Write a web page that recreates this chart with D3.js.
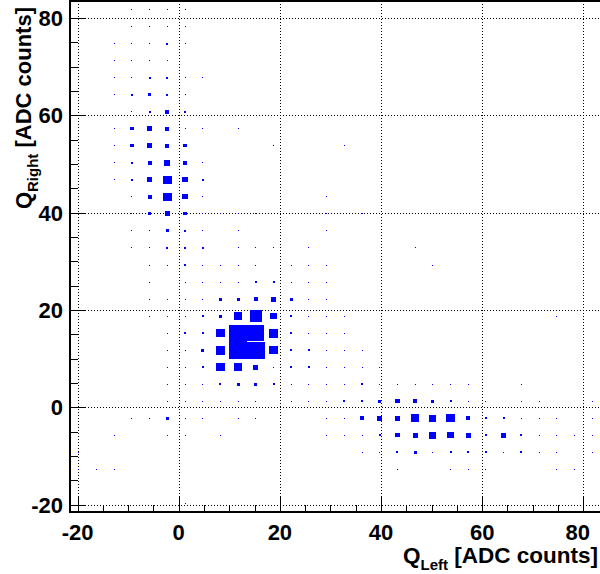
<!DOCTYPE html>
<html>
<head>
<meta charset="utf-8">
<script src="https://cdn.jsdelivr.net/npm/d3@7"></script>
<style>
  html, body { margin: 0; padding: 0; background: #fff; }
  svg { display: block; }
  text { font-family: "Liberation Sans", Arial, Helvetica, sans-serif; font-weight: bold; fill: #000; }
</style>
</head>
<body>
<svg id="chart" width="600" height="574"></svg>
<script>
// Axis ranges and binning of the 2D charge histogram (30 x 30 bins)
const qLeftRange = [-21.5, 83.5];
const qRightRange = [-21.5, 83.5];
const nBinsX = 30;
const nBinsY = 30;

// Tick values
const xTicks = [-20, 0, 20, 40, 60, 80];
const yTicks = [-20, 0, 20, 40, 60, 80];

// Axis titles
const xTitle = ["Q", "Left", " [ADC counts]"];
const yTitle = ["Q", "Right", " [ADC counts]"];

// Bin contents; first row is the highest Q_Right bin, columns run in Q_Left
const counts = [
  [0,0,0,1,1,1,1,0,0,0, 0,0,0,0,0,0,0,0,0,0, 0,0,0,0,0,0,0,0,0,0],
  [0,0,0,1,1,1,1,0,0,0, 0,0,0,0,0,0,0,0,0,0, 0,0,0,0,0,0,0,0,0,0],
  [0,0,1,1,1,2,1,0,0,0, 0,0,0,0,0,0,0,0,0,0, 0,0,0,0,0,0,0,0,0,0],
  [0,0,1,1,1,1,0,0,0,0, 0,0,0,0,0,0,0,0,0,0, 0,0,0,0,0,0,0,0,0,0],
  [0,0,1,1,2,2,1,1,0,0, 0,0,0,0,0,0,0,0,0,0, 0,0,0,0,0,0,0,0,0,0],
  [0,0,1,2,3,2,1,0,0,0, 0,0,0,0,0,0,0,0,0,0, 0,0,0,0,0,0,0,0,0,0],
  [0,0,0,1,2,4,2,0,0,0, 0,0,0,0,0,0,0,0,0,0, 0,0,0,0,0,0,0,0,0,0],
  [0,0,1,3,5,4,1,1,0,1, 0,0,0,0,0,0,0,0,0,0, 0,0,0,0,0,0,0,0,0,0],
  [0,0,1,3,5,4,3,0,0,0, 0,1,0,0,0,1,0,0,0,0, 0,0,0,0,0,0,0,0,0,0],
  [0,0,1,2,4,6,4,1,0,0, 0,0,0,0,0,0,0,0,0,0, 0,0,0,0,0,0,0,0,0,0],
  [0,0,1,2,5,8,5,2,0,0, 0,0,0,0,0,0,0,0,0,0, 0,0,0,0,0,0,0,0,0,0],
  [0,0,0,1,4,8,5,1,0,0, 0,0,0,0,1,0,0,0,0,0, 0,0,0,0,0,0,0,0,0,0],
  [0,0,0,1,3,5,3,1,1,1, 1,0,0,0,1,0,1,0,0,0, 0,0,0,0,0,0,0,0,0,0],
  [0,0,0,1,1,3,2,1,0,1, 0,0,0,0,1,0,0,0,0,0, 0,0,0,0,0,0,0,0,0,0],
  [0,0,0,1,1,2,2,2,0,1, 1,1,0,1,0,0,0,0,0,1, 0,0,0,0,0,0,0,0,0,0],
  [0,0,0,0,1,1,2,1,1,1, 1,0,1,1,1,0,0,0,0,0, 1,0,0,0,0,0,0,0,0,0],
  [0,0,0,0,1,0,1,1,1,1, 2,2,1,1,1,0,0,0,0,0, 0,0,0,0,0,0,0,0,0,0],
  [0,0,0,0,1,1,1,1,3,3, 4,5,3,1,1,0,0,0,0,0, 0,0,0,0,0,0,0,0,0,0],
  [0,0,0,0,1,1,1,2,3,8, 12,6,2,1,1,1,0,0,0,0, 0,0,0,0,0,0,0,1,0,0],
  [0,0,0,0,0,1,2,2,8,17, 16.5,9,2,1,1,1,0,0,0,0, 0,0,0,0,0,0,0,0,0,0],
  [0,0,0,0,0,1,1,3,9,17, 17,8,2,2,1,1,1,0,0,0, 0,0,0,0,0,0,0,0,0,0],
  [0,0,0,0,0,1,1,2,8,8, 5,1,2,2,1,1,1,1,0,0, 0,0,0,0,0,0,0,0,0,0],
  [0,0,0,0,0,1,1,1,2,3, 3,2,1,1,1,1,2,1,1,1, 1,1,1,0,0,1,0,0,0,0],
  [0,0,0,0,0,1,1,1,1,1, 1,0,1,1,1,2,2,3,4,4, 3,2,1,1,0,1,1,0,0,1],
  [0,0,0,1,1,3,1,1,0,1, 1,0,0,0,1,1,4,5,5,8, 7,8,4,2,2,1,1,1,0,1],
  [0,0,1,0,0,1,1,0,1,0, 0,0,0,0,1,1,1,2,4,5, 7,6,5,2,5,2,1,1,1,1],
  [1,0,0,0,0,0,0,0,0,0, 0,0,0,0,0,0,1,1,2,3, 1,2,2,2,1,2,1,1,0,1],
  [1,1,1,0,0,0,0,0,0,0, 0,0,0,0,0,0,0,0,1,0, 0,1,1,1,0,0,0,1,1,0],
  [0,0,0,0,0,0,0,0,0,0, 0,0,0,0,0,0,0,0,0,0, 0,0,0,0,0,0,0,0,0,0],
  [0,0,0,0,0,0,1,0,0,0, 0,0,0,0,0,0,0,0,0,0, 0,0,0,0,0,0,0,0,0,0]
];

// Frame geometry
const frame = { left: 70, top: 1, right: 601, bottom: 512 };
const canvasW = 600;

const svg = d3.select("#chart");

const x = d3.scaleLinear().domain(qLeftRange).range([frame.left, frame.right]);
const y = d3.scaleLinear().domain(qRightRange).range([frame.bottom, frame.top]);

const bwX = (qLeftRange[1] - qLeftRange[0]) / nBinsX;
const bwY = (qRightRange[1] - qRightRange[0]) / nBinsY;
const zMax = d3.max(counts.flat());

// Box side scales linearly with the bin content
const boxFrac = d3.scaleLinear().domain([0, zMax]).range([0, 1]);

// Flatten matrix into cell records
const cells = [];
counts.forEach((row, r) => {
  const j = nBinsY - 1 - r;
  row.forEach((v, k) => {
    if (v > 0) cells.push({ k, j, v });
  });
});

// Dotted grid at major ticks
const grid = svg.append("g").attr("stroke", "#000").attr("stroke-width", 1)
  .attr("stroke-dasharray", "1,2").attr("shape-rendering", "crispEdges");
grid.selectAll("line.gx").data(xTicks).join("line")
  .attr("x1", d => Math.round(x(d)) + 0.5).attr("x2", d => Math.round(x(d)) + 0.5)
  .attr("y1", frame.top).attr("y2", frame.bottom);
grid.selectAll("line.gy").data(yTicks).join("line")
  .attr("y1", d => Math.round(y(d)) + 0.5).attr("y2", d => Math.round(y(d)) + 0.5)
  .attr("x1", frame.left).attr("x2", frame.right);

// Boxes
svg.append("g").attr("fill", "#0000ff").attr("shape-rendering", "crispEdges")
  .selectAll("rect").data(cells).join("rect")
  .attr("x", d => {
    const x0 = x(qLeftRange[0] + d.k * bwX), x1 = x(qLeftRange[0] + (d.k + 1) * bwX);
    const half = (x1 - x0) / 2 * boxFrac(d.v);
    return (x0 + x1) / 2 - half;
  })
  .attr("width", d => Math.max(1, (x(bwX) - x(0)) * boxFrac(d.v)))
  .attr("y", d => {
    const y0 = y(qRightRange[0] + (d.j + 1) * bwY), y1 = y(qRightRange[0] + d.j * bwY);
    const half = (y1 - y0) / 2 * boxFrac(d.v);
    return (y0 + y1) / 2 - half;
  })
  .attr("height", d => Math.max(1, (y(0) - y(bwY)) * boxFrac(d.v)));

// Major and minor ticks pointing into the frame
const minorX = d3.range(-20, 81, 5);
const minorY = d3.range(-20, 81, 5);
const ax = svg.append("g").attr("stroke", "#000").attr("shape-rendering", "crispEdges");
ax.selectAll("line.tx").data(minorX).join("line")
  .attr("x1", d => Math.round(x(d)) + 0.5).attr("x2", d => Math.round(x(d)) + 0.5)
  .attr("y1", frame.bottom).attr("y2", d => frame.bottom - (xTicks.includes(d) ? 15 : 7.5));
ax.selectAll("line.ty").data(minorY).join("line")
  .attr("y1", d => Math.round(y(d)) + 0.5).attr("y2", d => Math.round(y(d)) + 0.5)
  .attr("x1", frame.left).attr("x2", d => frame.left + (yTicks.includes(d) ? 15 : 7.5));

// Frame
svg.append("rect")
  .attr("x", frame.left).attr("y", frame.top)
  .attr("width", frame.right - frame.left).attr("height", frame.bottom - frame.top)
  .attr("fill", "none").attr("stroke", "#000").attr("stroke-width", 2);

// Tick labels (kept inside the canvas at the right edge)
const xLab = svg.append("g").selectAll("text").data(xTicks).join("text")
  .attr("x", d => x(d)).attr("y", 540)
  .attr("text-anchor", "middle").attr("font-size", 22)
  .text(d => d);
xLab.each(function () {
  const b = this.getBBox();
  const over = b.x + b.width - (canvasW - 10);
  if (over > 0) d3.select(this).attr("x", +d3.select(this).attr("x") - over);
});
svg.append("g").selectAll("text").data(yTicks).join("text")
  .attr("x", 63).attr("y", d => y(d) + 8)
  .attr("text-anchor", "end").attr("font-size", 22)
  .text(d => d);

// Axis titles with subscripts
function title(sel, parts) {
  sel.append("tspan").text(parts[0]);
  sel.append("tspan").attr("font-size", 15).attr("dy", 7).text(parts[1]);
  sel.append("tspan").attr("dy", -7).text(parts[2]);
}
svg.append("text").attr("x", 598).attr("y", 563)
  .attr("text-anchor", "end").attr("font-size", 22.5)
  .call(title, xTitle);
svg.append("text").attr("transform", "translate(31,7) rotate(-90)")
  .attr("text-anchor", "end").attr("font-size", 22)
  .call(title, yTitle);
</script>
</body>
</html>
